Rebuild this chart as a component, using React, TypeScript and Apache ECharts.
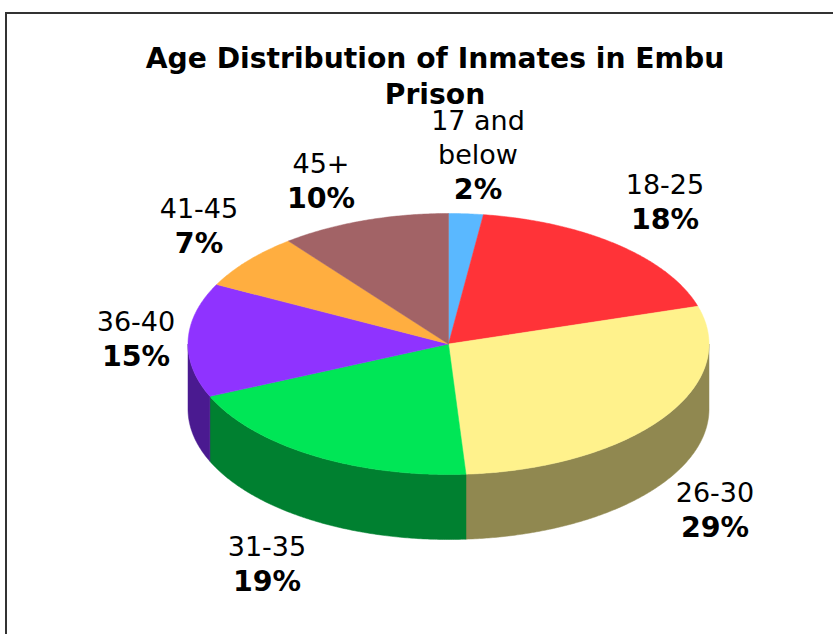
import React, { useEffect, useRef } from "react";
import * as echarts from "echarts";

const categories = ["17 and\nbelow", "18-25", "26-30", "31-35", "36-40", "41-45", "45+"];
const percents = [2, 18, 29, 19, 15, 7, 10];
const titleLines = "Age Distribution of Inmates in Embu\nPrison";

const topColors = ["#5ab8ff", "#ff3338", "#fff28c", "#00e656", "#8f33ff", "#ffae40", "#a26366"];
const wallColors = ["#2d5c80", "#80191c", "#908850", "#008030", "#4a1a90", "#805720", "#513133"];
const labelCenters = [
  [478, 155], [665, 202], [715, 510], [267, 564], [136, 339], [199, 226], [321, 181],
];

const CX = 448.5;
const CY = 344;
const RX = 260.5;
const RY = 130.5;
const DEPTH = 65;
const VIEW_WARP = 2; // degrees of angular distortion from the tilted 3D view
const FONT = "DejaVu Sans";

const warped = (deg: number) => deg + VIEW_WARP * Math.sin((2 * deg * Math.PI) / 180);

const ellipsePoint = (deg: number, dy = 0) => {
  const t = (deg * Math.PI) / 180;
  return [CX + RX * Math.sin(t), CY - RY * Math.cos(t) + dy];
};

const arc = (from: number, to: number, dy = 0) => {
  const pts: number[][] = [];
  const steps = Math.max(2, Math.ceil(Math.abs(to - from) * 2));
  for (let i = 0; i <= steps; i++) pts.push(ellipsePoint(from + ((to - from) * i) / steps, dy));
  return pts;
};

const total = percents.reduce((a, b) => a + b, 0);
const startAngles = percents.map((_, i) => (percents.slice(0, i).reduce((a, b) => a + b, 0) / total) * 360);

export default function App() {
  const ref = useRef<HTMLDivElement>(null);
  useEffect(() => {
    document.body.style.margin = "0";
    const chart = echarts.init(ref.current!, undefined, { renderer: "svg" });
    chart.setOption({
      animation: false,
      backgroundColor: "#ffffff",
      title: {
        text: titleLines,
        left: 430,
        top: 35,
        textAlign: "center",
        textStyle: { fontFamily: FONT, fontWeight: "bold", fontSize: 28.2, lineHeight: 36, color: "#000" },
      },
      graphic: [
        {
          type: "polyline",
          shape: { points: [[6, 634], [6, 13], [833, 13]] },
          style: { stroke: "#333", lineWidth: 2, fill: "none" },
          silent: true,
        },
      ],
      series: [
        {
          type: "custom",
          coordinateSystem: "none",
          silent: true,
          data: percents.map((p, i) => ({ value: [p, i], name: categories[i] })),
          renderItem: (_params: any, api: any) => {
            const value = api.value(0);
            const i = api.value(1);
            const start = warped(startAngles[i]);
            const end = warped(startAngles[i] + (value / total) * 360);
            const children: any[] = [];
            const wFrom = Math.max(start, 90);
            const wTo = Math.min(end, 270);
            if (wTo > wFrom) {
              const points = [...arc(wFrom, wTo), ...arc(wTo, wFrom, DEPTH)];
              children.push({
                type: "polygon",
                shape: { points },
                style: { fill: wallColors[i], stroke: wallColors[i], lineWidth: 0.5 },
              });
            }
            children.push({
              type: "polygon",
              shape: { points: [[CX, CY], ...arc(start, end)] },
              style: { fill: topColors[i], stroke: topColors[i], lineWidth: 0.5 },
            });
            const [lx, ly] = labelCenters[i];
            children.push({
              type: "text",
              x: lx,
              y: ly,
              style: {
                text: `{a|${categories[i].replace("\n", "}\n{a|")}}\n{b|${value}%}`,
                align: "center",
                verticalAlign: "middle",
                rich: {
                  a: { fontFamily: FONT, fontSize: 27, lineHeight: 34, fill: "#000", align: "center" },
                  b: { fontFamily: FONT, fontSize: 28.5, fontWeight: "bold", lineHeight: 35, fill: "#000", align: "center" },
                },
              },
            });
            return { type: "group", children };
          },
        },
      ],
    });
    return () => chart.dispose();
  }, []);
  return <div ref={ref} style={{ width: 833, height: 634 }} />;
}
